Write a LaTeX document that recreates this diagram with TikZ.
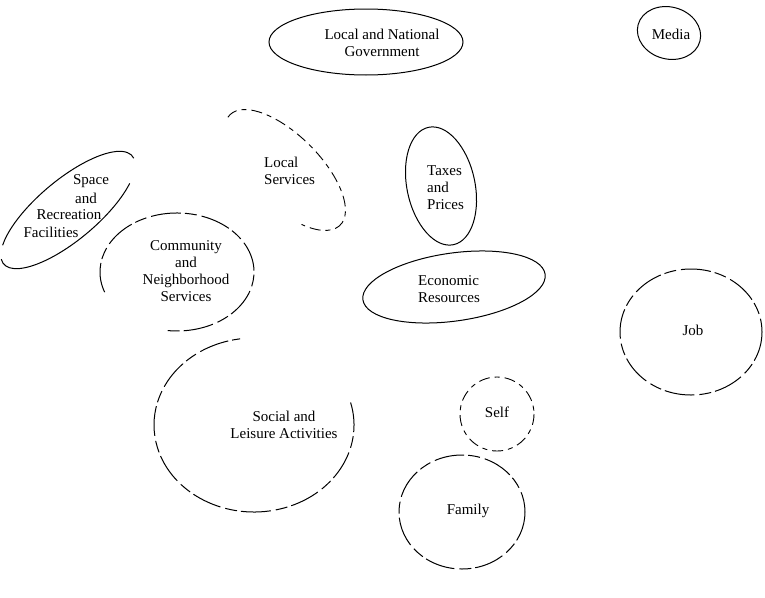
\documentclass[tikz,border=0pt]{standalone}
\usepackage{fontspec}
\setmainfont{Liberation Serif}

\begin{document}
\begin{tikzpicture}[x=1pt,y=-1pt,
    ring/.style={line width=1pt},
    brokenring/.style={line width=1pt, dash pattern=on 30pt off 4pt on 12pt off 5pt},
    dashring/.style={line width=0.9pt, dash pattern=on 11pt off 5pt on 5pt off 5pt},
    lbl/.style={font=\fontsize{15}{17}\selectfont, inner sep=0pt}]
    \useasboundingbox (0,0) rectangle (765,597);
    % top row
    \draw [ring] (366,42) ellipse [x radius=97, y radius=33];
    \node [lbl, align=center] (gov) at (382,43) {Local and National\\Government};
    \draw [ring, rotate around={-15:(669,33)}] (669,33) ellipse [x radius=32, y radius=26];
    \node [lbl] (media) at (671,34) {Media};
    % local services, space
    \draw [dashring, rotate around={-45:(285,170)}] (285,170) ++(-185:78 and 35)
        arc [start angle=-185, end angle=50, x radius=78, y radius=35];
    \node [lbl, align=left, anchor=west] (locserv) at (264,171) {Local\\Services};
    \draw [ring, rotate around={40:(68,210)}] (68,210) ++(-150:84 and 30)
        arc [start angle=-150, end angle=5, x radius=84, y radius=30];
    \draw [ring, rotate around={40:(68,210)}] (68,210) ++(40:84 and 30)
        arc [start angle=40, end angle=190, x radius=84, y radius=30];
    \node [lbl] (space1) at (91,181) {Space};
    \node [lbl] (space2) at (86,198) {and};
    \node [lbl] (space3) at (69,215) {Recreation};
    \node [lbl] (space4) at (51,232) {Facilities};
    % taxes, economic
    \draw [ring, rotate around={12:(441,186)}] (441,186) ellipse [x radius=34, y radius=60];
    \node [lbl, align=left, anchor=west] (taxes) at (427,188) {Taxes\\and\\Prices};
    \draw [ring, rotate around={8:(454,287)}] (454,287) ellipse [x radius=92, y radius=34];
    \node [lbl, align=left, anchor=west] (econ) at (418,289) {Economic\\Resources};
    % community, social
    \draw [brokenring] (177,272) ++(160:77 and 59)
        arc [start angle=160, end angle=460, x radius=77, y radius=59];
    \node [lbl, align=center] (comm) at (186,271) {Community\\and\\Neighborhood\\Services};
    \draw [brokenring] (254,425) ++(-15:100 and 87)
        arc [start angle=-15, end angle=262, x radius=100, y radius=87];
    \node [lbl, align=center] (social) at (284,425) {Social and\\Leisure Activities};
    % self, family, job
    \draw [dashring] (497,414) circle [radius=37];
    \node [lbl] (self) at (497,412) {Self};
    \draw [brokenring] (462,512) ellipse [x radius=63, y radius=57];
    \node [lbl] (family) at (468,511) {Family};
    \draw [brokenring] (691,332) ellipse [x radius=71, y radius=63];
    \node [lbl] (job) at (693,330) {Job};
\end{tikzpicture}
\end{document}
